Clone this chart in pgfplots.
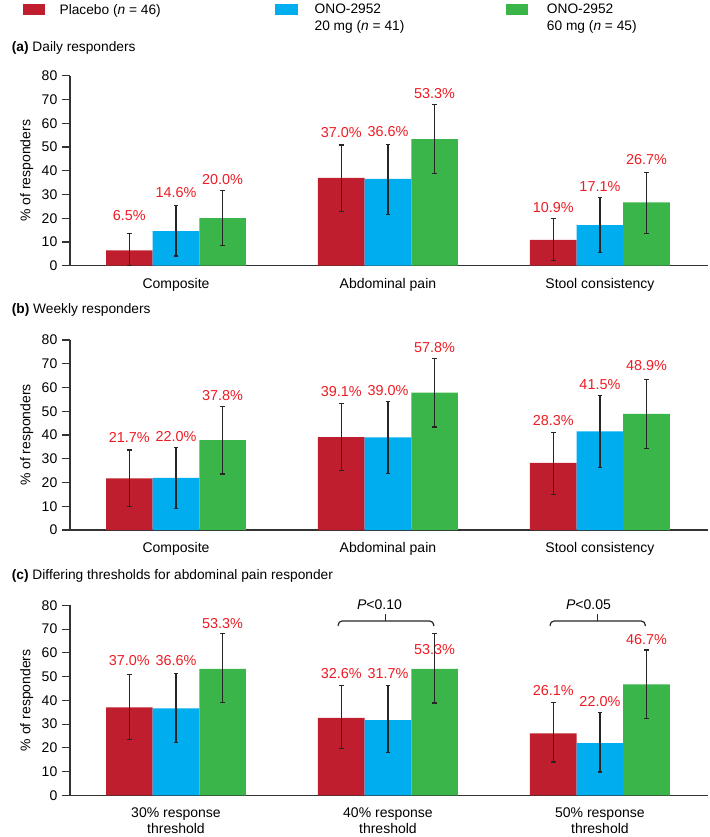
\documentclass[border=0pt]{standalone}
\usepackage{fontspec}
\setmainfont{Liberation Sans}
\setsansfont{Liberation Sans}
\usepackage{pgfplots}
\pgfplotsset{compat=1.18}
\usepackage{pgfplotstable}

\definecolor{cpl}{RGB}{190,30,45}
\definecolor{ctw}{RGB}{0,174,239}
\definecolor{csx}{RGB}{57,181,74}
\definecolor{labred}{RGB}{237,28,36}

% g  r  rhi rlo rly  b  bhi blo bly  s  shi slo sly
\pgfplotstableread{
g r rhi rlo rly b bhi blo bly s shi slo sly
0 6.5 13.6 0.0 21.0 14.6 25.3 4.1 30.7 20.0 31.6 8.6 36.5
1 37.0 50.8 22.7 56.0 36.6 51.2 21.6 56.3 53.3 68.0 38.8 72.6
2 10.9 19.8 2.3 24.7 17.1 28.6 5.6 33.3 26.7 39.4 13.6 44.9
}\tabA
\pgfplotstableread{
g r rhi rlo rly b bhi blo bly s shi slo sly
0 21.7 33.7 9.8 38.9 22.0 34.7 9.0 39.3 37.8 51.9 23.6 56.6
1 39.1 53.2 25.1 58.2 39.0 54.1 23.9 58.9 57.8 72.3 43.4 76.8
2 28.3 41.1 15.1 46.2 41.5 56.5 26.2 61.4 48.9 63.5 34.4 69.2
}\tabB
\pgfplotstableread{
g r rhi rlo rly b bhi blo bly s shi slo sly
0 37.0 51.0 23.4 56.8 36.6 51.3 22.3 56.8 53.3 68.0 39.0 72.4
1 32.6 46.4 19.6 51.1 31.7 46.1 18.1 51.1 53.3 68.0 38.9 61.3
2 26.1 39.1 14.0 44.0 22.0 35.0 9.8 39.4 46.7 61.2 32.5 65.5
}\tabC

\pgfplotsset{
  panel/.style={
    scale only axis, width=478.5pt, height=142.5pt,
    xmin=-0.5, xmax=2.51, ymin=0, ymax=80, ytick={0,10,...,80},
    axis lines=left, axis line style={-, line width=1pt, black!80},
    xtick={0,1,2}, x tick style={draw=none},
    y tick style={line width=0.8pt, black!80},
    tick align=outside, major tick length=6pt,
    ylabel={\% of responders},
    ylabel style={at={(axis description cs:-0.0679,0.5)}, anchor=center},
    font=\fontsize{10.5}{12}\selectfont,
    tick label style={font=\fontsize{10.5}{12}\selectfont},
    /pgf/number format/assume math mode=true,
    clip=false, anchor=south west,
  },
  bars/.style={ybar, bar width=0.22, draw=none, fill=#1,
    error bars/.cd, y dir=both, y explicit,
    error bar style={draw=black!85, line width=0.9pt},
    error mark options={rotate=90, mark size=1.8pt, draw=black!85, line width=0.9pt}},
  labs/.style={draw=none, mark=none,
    nodes near coords={\pgfmathprintnumber[fixed, fixed zerofill, precision=1]{\pgfplotspointmeta}\%},
    nodes near coords style={anchor=center, text=labred, font=\fontsize{10.8}{12}\selectfont},
    point meta=explicit},
}

\newcommand{\panelplots}[1]{%
  \addplot[bars=cpl] table[x expr=\thisrow{g}-0.22, y=r,
     y error plus expr=\thisrow{rhi}-\thisrow{r}, y error minus expr=\thisrow{r}-\thisrow{rlo}] {#1};
  \addplot[bars=ctw] table[x expr=\thisrow{g}, y=b,
     y error plus expr=\thisrow{bhi}-\thisrow{b}, y error minus expr=\thisrow{b}-\thisrow{blo}] {#1};
  \addplot[bars=csx] table[x expr=\thisrow{g}+0.22, y=s,
     y error plus expr=\thisrow{shi}-\thisrow{s}, y error minus expr=\thisrow{s}-\thisrow{slo}] {#1};
  \addplot[labs] table[x expr=\thisrow{g}-0.22, y=rly, meta=r] {#1};
  \addplot[labs] table[x expr=\thisrow{g}, y=bly, meta=b] {#1};
  \addplot[labs] table[x expr=\thisrow{g}+0.22, y=sly, meta=s] {#1};
}

\begin{document}
\begin{tikzpicture}[font=\fontsize{10.3}{12}\selectfont]
\path[use as bounding box] (0,0) rectangle (531.75pt,-627.75pt);

% legend
\fill[cpl] (17.0pt,-3.0pt) rectangle (33.75pt,-11.25pt);
\fill[ctw] (206.25pt,-3.0pt) rectangle (223.5pt,-11.25pt);
\fill[csx] (379.25pt,-3.0pt) rectangle (396.25pt,-11.25pt);
\node[anchor=base west, inner sep=0pt] at (44.5pt,-10.6pt) {Placebo (\textit{n} = 46)};
\node[anchor=base west, inner sep=0pt] at (235.8pt,-10.3pt) {ONO-2952};
\node[anchor=base west, inner sep=0pt] at (235.8pt,-22.8pt) {20 mg (\textit{n} = 41)};
\node[anchor=base west, inner sep=0pt] at (410.0pt,-10.3pt) {ONO-2952};
\node[anchor=base west, inner sep=0pt] at (410.0pt,-22.8pt) {60 mg (\textit{n} = 45)};

% panel titles
\node[anchor=base west, inner sep=0pt] at (8.7pt,-38.6pt) {\textbf{(a)} Daily responders};
\node[anchor=base west, inner sep=0pt] at (8.7pt,-235.3pt) {\textbf{(b)} Weekly responders};
\node[anchor=base west, inner sep=0pt] at (8.7pt,-434.8pt) {\textbf{(c)} Differing thresholds for abdominal pain responder};

\begin{axis}[panel, at={(52.5pt,-199.3pt)},
  xticklabels={Composite, Abdominal pain, Stool consistency}]
  \panelplots{\tabA}
\end{axis}

\begin{axis}[panel, at={(52.5pt,-397.5pt)},
  xticklabels={Composite, Abdominal pain, Stool consistency}]
  \panelplots{\tabB}
\end{axis}

\begin{axis}[panel, at={(52.5pt,-596.5pt)},
  xticklabel style={align=center},
  xticklabels={30\% response\\threshold, 40\% response\\threshold, 50\% response\\threshold}]
  \panelplots{\tabC}
  \draw[line width=0.9pt, black!85, rounded corners=3pt]
     (axis cs:0.765,71.3) -- (axis cs:0.765,73.4) -- (axis cs:1.216,73.4) -- (axis cs:1.216,71.3);
  \draw[line width=0.9pt, black!85] (axis cs:0.99,73.4) -- (axis cs:0.99,76.2);
  \node at (axis cs:0.96,80.2) {\textit{P}<0.10};
  \draw[line width=0.9pt, black!85, rounded corners=3pt]
     (axis cs:1.765,71.3) -- (axis cs:1.765,73.4) -- (axis cs:2.214,73.4) -- (axis cs:2.214,71.3);
  \draw[line width=0.9pt, black!85] (axis cs:1.99,73.4) -- (axis cs:1.99,76.2);
  \node at (axis cs:1.946,80.2) {\textit{P}<0.05};
\end{axis}
\end{tikzpicture}
\end{document}
